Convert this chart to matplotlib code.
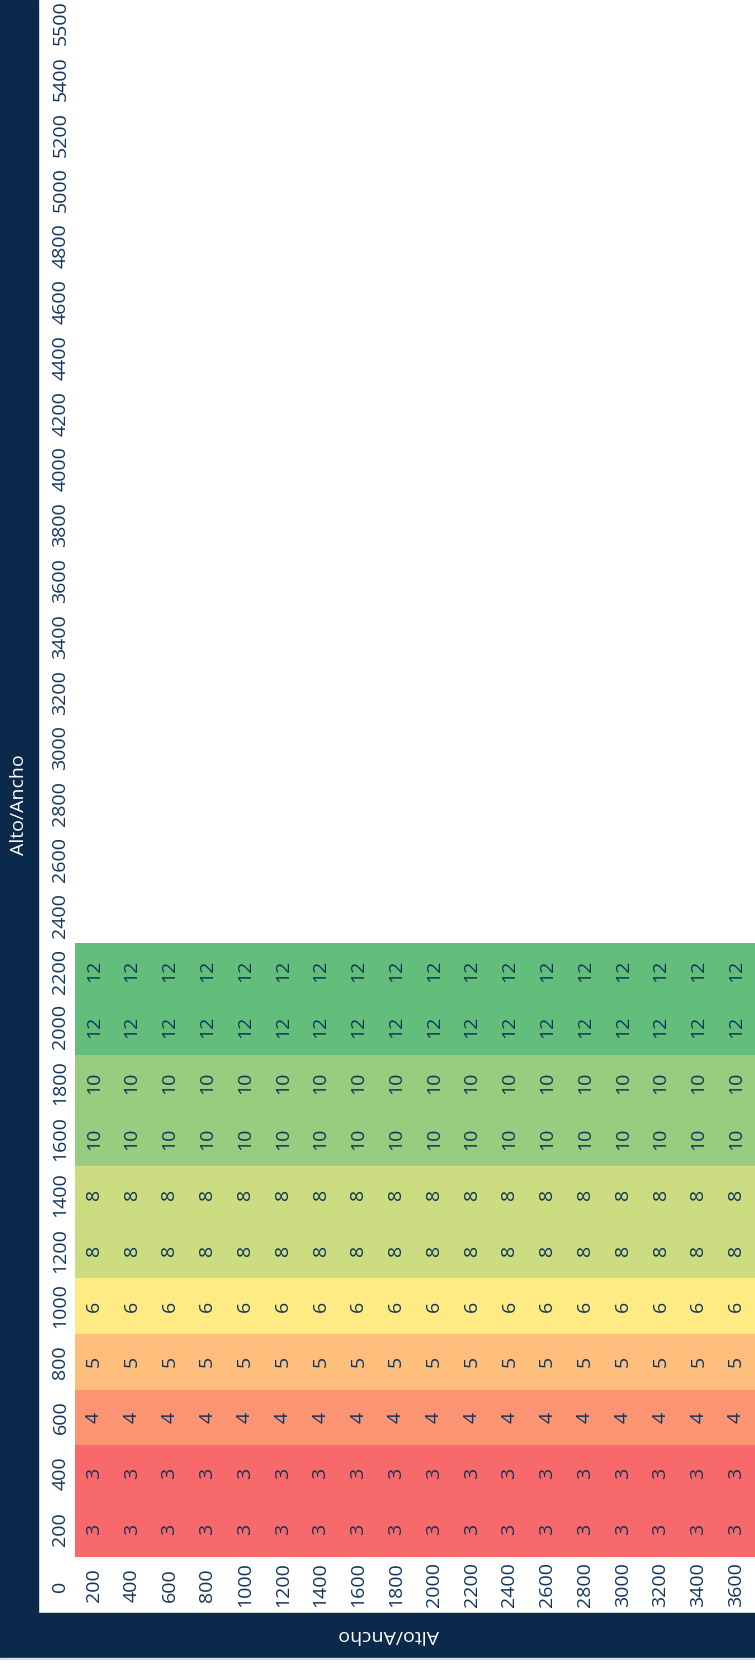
import numpy as np
import matplotlib
matplotlib.use("Agg")
import matplotlib.pyplot as plt
from matplotlib.colors import LinearSegmentedColormap, Normalize
from matplotlib.patches import Rectangle

# Table data (rotated layout: rows run left->right, columns run bottom->top)
alto = [200, 400, 600, 800, 1000, 1200, 1400, 1600, 1800, 2000,
        2200, 2400, 2600, 2800, 3000, 3200, 3400, 3600]
ancho = [200, 400, 600, 800, 1000, 1200, 1400, 1600, 1800, 2000, 2200,
         2400, 2600, 2800, 3000, 3200, 3400, 3600, 3800, 4000, 4200,
         4400, 4600, 4800, 5000, 5200, 5400, 5500]
# value per ancho column (same for every alto row); None = empty cell
col_values = [3, 3, 4, 5, 6, 8, 8, 10, 10, 12, 12,
              None, None, None, None, None, None, None, None, None, None,
              None, None, None, None, None, None, None]
header_title = "Alto/Ancho"
corner_label = "0"

NAVY = "#0B2A4B"
TEXT = "#12345A"
W, H = 755, 1672

plt.rcParams['font.family'] = ['Open Sans', 'DejaVu Sans']

# Excel-style 3 colour scale: red (min) -> yellow -> green (max)
vmin, vmid, vmax = 3, 6, 12
cmap = LinearSegmentedColormap.from_list(
    "rdylgn_excel",
    [(0.0, "#F8696B"), ((vmid - vmin) / (vmax - vmin), "#FFEB84"), (1.0, "#63BE7B")])
norm = Normalize(vmin=vmin, vmax=vmax)

Z = np.array([[np.nan if v is None else v for _ in alto] for v in col_values], dtype=float)
Z = np.ma.masked_invalid(Z)

fig = plt.figure(figsize=(W / 100, H / 100), dpi=100)
fig.patch.set_facecolor("white")

# dark header bands
fig.patches.append(Rectangle((0, 1 - 1658 / H), 38 / W, 1658 / H,
                             transform=fig.transFigure, color=NAVY, zorder=0))
fig.patches.append(Rectangle((0, 1 - 1658 / H), 1, 45 / H,
                             transform=fig.transFigure, color=NAVY, zorder=0))
fig.patches.append(Rectangle((0, 1 - 1659 / H), 1, 1 / H,
                             transform=fig.transFigure, color="#D5DDE6", zorder=0))

cell_h = 55.8
ax = fig.add_axes([75 / W, 115 / H, 680 / W, len(ancho) * cell_h / H])
x_edges = np.arange(len(alto) + 1) - 0.5
y_edges = np.arange(len(ancho) + 1) - 0.5
ax.pcolormesh(x_edges, y_edges, Z, cmap=cmap, norm=norm)
ax.set_xlim(x_edges[0], x_edges[-1])
ax.set_ylim(y_edges[0], y_edges[-1])

for j, v in enumerate(col_values):
    if v is None:
        continue
    for i in range(len(alto)):
        ax.text(i, j, str(v), rotation=90, ha="center", va="center",
                fontsize=14, color=TEXT)

ax.set_xticks(range(len(alto)), labels=[str(a) for a in alto],
              rotation=90, va="center", ha="center")
ax.set_yticks(range(len(ancho)), labels=[str(a) for a in ancho],
              rotation=90, va="center")
ax.tick_params(axis="x", length=0, pad=20, labelsize=14, labelcolor=TEXT)
ax.tick_params(axis="y", length=0, pad=4, labelsize=14, labelcolor=TEXT)
for s in ax.spines.values():
    s.set_visible(False)

fig.text(60 / W, 1 - 1586 / H, corner_label, rotation=90, ha="center", va="center",
         fontsize=14, color=TEXT)
fig.text(19 / W, 1 - 805 / H, header_title, rotation=90, ha="center", va="center",
         fontsize=14, color="white")
fig.text(389 / W, 1 - 1635 / H, header_title, rotation=180, ha="center", va="center",
         fontsize=14, color="white")

fig.savefig("out.png", dpi=100, facecolor="white")
